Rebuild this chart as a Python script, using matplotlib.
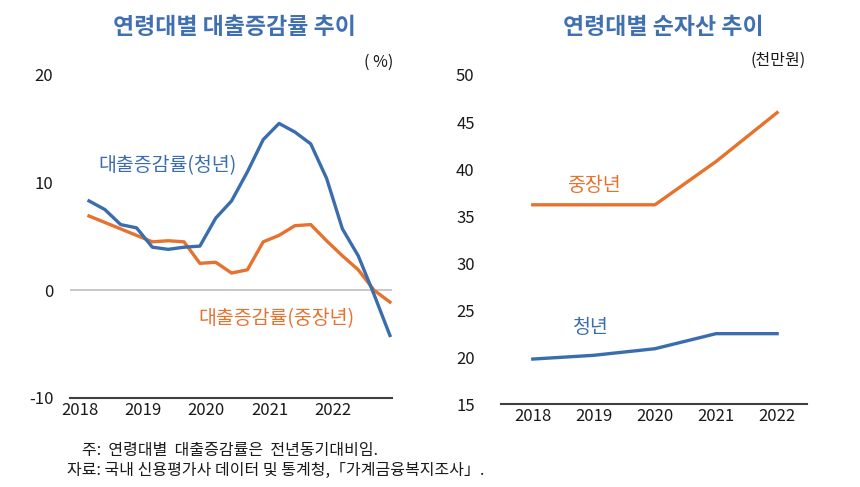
"""Two-panel chart: loan growth and net assets by age group."""

import matplotlib.pyplot as plt

plt.rcParams["font.family"] = ["Noto Sans CJK KR", "DejaVu Sans"]
plt.rcParams["axes.unicode_minus"] = False

BLUE = "#3A6DAE"
ORANGE = "#E5722E"
TITLE_BLUE = "#4170B0"
TEXT = "#1A1A1A"

# left panel: quarterly loan growth (%), 2018Q1 - 2022Q4
years = ["2018", "2019", "2020", "2021", "2022"]
youth_growth = [8.3, 7.5, 6.1, 5.8, 4.0, 3.8, 4.0, 4.1, 6.7, 8.3,
                11.0, 14.0, 15.5, 14.7, 13.6, 10.4, 5.7, 3.2, -0.4, -4.2]
middle_growth = [6.9, 6.3, 5.7, 5.1, 4.5, 4.6, 4.5, 2.5, 2.6, 1.6,
                 1.9, 4.5, 5.1, 6.0, 6.1, 4.6, 3.2, 1.9, 0.0, -1.1]

# right panel: net assets (10 million won)
youth_assets = [19.8, 20.2, 20.9, 22.5, 22.5]
middle_assets = [36.2, 36.2, 36.2, 40.8, 46.0]

fig = plt.figure(figsize=(8.6, 4.87), dpi=100)

# left panel
ax1 = fig.add_axes([0.0814, 0.183, 0.3744, 0.663])
quarters = list(range(len(youth_growth)))
ax1.axhline(0, color="#BFBFBF", lw=1.2, zorder=1)
ax1.plot(quarters, youth_growth, color=BLUE, lw=2.4, zorder=3)
ax1.plot(quarters, middle_growth, color=ORANGE, lw=2.4, zorder=2)
ax1.set_xlim(-1.2, 19.13)
ax1.set_ylim(-10, 20)
ax1.set_yticks([-10, 0, 10, 20])
ax1.set_xticks([4 * i - 0.6 for i in range(len(years))])
ax1.set_xticklabels(years)
ax1.text(0.6, 11.6, "대출증감률(청년)", color=BLUE, fontsize=14,
         va="center", ha="left")
ax1.text(6.9, -2.6, "대출증감률(중장년)", color=ORANGE, fontsize=14,
         va="center", ha="left")

# right panel
ax2 = fig.add_axes([0.5826, 0.170, 0.3558, 0.676])
idx = list(range(len(years)))
ax2.plot(idx, middle_assets, color=ORANGE, lw=2.4)
ax2.plot(idx, youth_assets, color=BLUE, lw=2.4)
ax2.set_xlim(-0.52, 4.49)
ax2.set_ylim(15, 50)
ax2.set_yticks(range(15, 51, 5))
ax2.set_xticks(idx)
ax2.set_xticklabels(years)
ax2.text(1.0, 38.3, "중장년", color=ORANGE, fontsize=14,
         va="center", ha="center")
ax2.text(0.95, 23.2, "청년", color=BLUE, fontsize=14,
         va="center", ha="center")

for ax in (ax1, ax2):
    for side in ("top", "right", "left"):
        ax.spines[side].set_visible(False)
    ax.spines["bottom"].set_color("#404040")
    ax.spines["bottom"].set_linewidth(1.5)
    ax.tick_params(length=0, labelsize=12, colors=TEXT)
    ax.tick_params(axis="y", pad=12)
    ax.tick_params(axis="x", pad=3)
ax2.tick_params(axis="y", pad=19)

# titles and units
fig.text(234 / 860, 1 - 28 / 487, "연령대별 대출증감률 추이", color=TITLE_BLUE,
         fontsize=16.5, fontweight="bold", ha="center", va="center")
fig.text(663 / 860, 1 - 28 / 487, "연령대별 순자산 추이", color=TITLE_BLUE,
         fontsize=16.5, fontweight="bold", ha="center", va="center")
fig.text(393 / 860, 1 - 62 / 487, "( %)", fontsize=11.5, ha="right",
         va="center", color=TEXT)
fig.text(806 / 860, 1 - 60 / 487, "(천만원)", fontsize=11.5, ha="right",
         va="center", color=TEXT)

# footnotes
fig.text(82 / 860, 1 - 450 / 487, "주:  연령대별  대출증감률은  전년동기대비임.",
         fontsize=11.5, ha="left", va="center", color=TEXT)
fig.text(67 / 860, 1 - 470 / 487,
         "자료: 국내 신용평가사 데이터 및 통계청,「가계금융복지조사」.",
         fontsize=11.5, ha="left", va="center", color=TEXT)

fig.savefig("out.png", dpi=100)
